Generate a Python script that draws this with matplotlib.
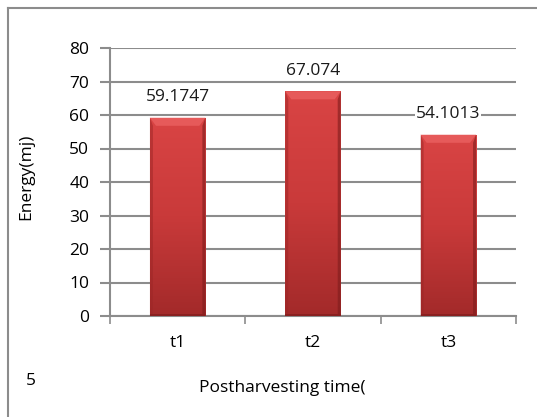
import numpy as np
import matplotlib.pyplot as plt
from matplotlib.colors import LinearSegmentedColormap
from matplotlib.patches import Polygon, Rectangle

categories = ['t1', 't2', 't3']
energy = [59.1747, 67.074, 54.1013]
value_labels = ['59.1747', '67.074', '54.1013']

plt.rcParams['font.family'] = ['Open Sans', 'DejaVu Sans']

fig = plt.figure(figsize=(5.37, 4.17), dpi=100)
W, H = 537, 417
ax = fig.add_axes([110 / W, 1 - 316 / H, 406 / W, 268 / H])

# outer frame (top and left edges only)
fig.add_artist(plt.Line2D([8 / W, 8 / W], [0, 1 - 8 / H], color='#8c8c8c', lw=1.5))
fig.add_artist(plt.Line2D([8 / W, 1], [1 - 8 / H, 1 - 8 / H], color='#8c8c8c', lw=1.5))

x = np.arange(len(categories))
bw = 0.41
grad = LinearSegmentedColormap.from_list('barred', ['#a32a2a', '#c93a3a', '#d94444'])
gimg = np.linspace(0, 1, 100).reshape(-1, 1)

for xi, v, lab in zip(x, energy, value_labels):
    left, right = xi - bw / 2, xi + bw / 2
    im = ax.imshow(gimg, extent=(left, right, 0, v), origin='lower', cmap=grad,
                   aspect='auto', zorder=3)
    clip = Rectangle((left, 0), bw, v, transform=ax.transData)
    im.set_clip_path(clip)
    # bevel on top and sides
    dx, dy = 0.045, 2.4
    ax.add_patch(Polygon([(left, v), (right, v), (right - dx, v - dy), (left + dx, v - dy)],
                         closed=True, facecolor='#e65a5a', edgecolor='none', zorder=4))
    ax.add_patch(Polygon([(left, 0), (left, v), (left + dx * 0.5, v - dy), (left + dx * 0.5, 0)],
                         closed=True, facecolor='#9c2626', edgecolor='none', alpha=0.5, zorder=4))
    ax.add_patch(Polygon([(right, 0), (right, v), (right - dx * 0.5, v - dy), (right - dx * 0.5, 0)],
                         closed=True, facecolor='#7e1c1c', edgecolor='none', alpha=0.6, zorder=4))
    ax.add_patch(Rectangle((left, 0), bw, 0.6, facecolor='#8a2020', edgecolor='none', zorder=4))
    ax.annotate(lab, (xi, v), xytext=(0, 9), textcoords='offset points',
                ha='center', va='bottom', fontsize=12.5, color='#1a1a1a', zorder=2,
                bbox=dict(facecolor='white', edgecolor='none', pad=0.5))

ax.set_xlim(-0.5, len(categories) - 0.5)
ax.set_ylim(0, 80)
ax.set_yticks(range(0, 81, 10))
ax.set_xticks(x)
ax.set_xticklabels(categories)
ax.set_xticks(np.arange(-0.5, len(categories)), minor=True)
ax.tick_params(axis='x', which='major', length=0, pad=14, labelsize=12.5)
ax.tick_params(axis='x', which='minor', length=6, width=1.2, color='#8c8c8c', direction='out')
ax.tick_params(axis='y', length=7, width=1.5, color='#8c8c8c', labelsize=12.5, pad=8)
ax.grid(axis='y', color='#8c8c8c', lw=1.5, zorder=0)
ax.set_axisbelow(True)
for s in ['top', 'right']:
    ax.spines[s].set_visible(False)
for s in ['left', 'bottom']:
    ax.spines[s].set_color('#8c8c8c')
    ax.spines[s].set_linewidth(1.5)

fig.text(26 / W, 1 - 177 / H, 'Energy(mj)', rotation=90, ha='center', va='center', fontsize=12.5)
fig.text(282 / W, 1 - 388 / H, 'Postharvesting time(', ha='center', va='center', fontsize=12.5)
fig.text(31 / W, 1 - 381 / H, '5', ha='center', va='center', fontsize=12.5)

fig.savefig('out.png', dpi=100)
